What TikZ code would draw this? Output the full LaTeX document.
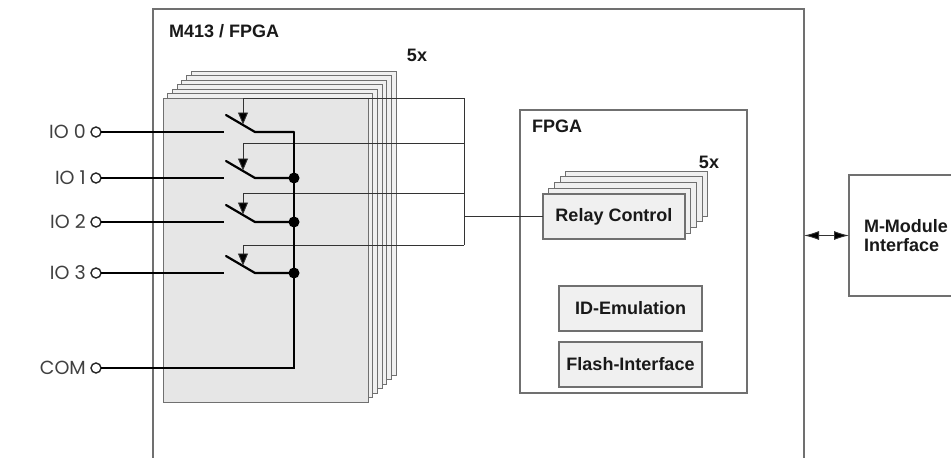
\documentclass[tikz,border=0pt]{standalone}
\usepackage{fontspec}
\setmainfont{Liberation Sans}
\newfontfamily\iofont{Poppins}
\usetikzlibrary{arrows.meta}
\definecolor{edgegray}{HTML}{707070}
\definecolor{ctlgray}{HTML}{333333}
\definecolor{sheetfront}{HTML}{E6E6E6}
\definecolor{sheetback}{HTML}{F0F0F0}
\definecolor{boxfill}{HTML}{F0F0F0}
\definecolor{txtgray}{HTML}{404040}
\tikzset{
  boxline/.style={draw=edgegray, line width=1.1pt},
  sheetbk/.style={draw=edgegray, line width=1pt, fill=sheetback},
  sheetfr/.style={draw=edgegray, line width=1pt, fill=sheetfront},
  blockbox/.style={draw=edgegray, line width=1.1pt, fill=boxfill, inner sep=0pt, outer sep=0pt,
     font=\fontsize{18}{20}\selectfont\bfseries, text=black!90},
  title/.style={font=\fontsize{18}{20}\selectfont\bfseries, text=black!90, inner sep=0pt},
  iolab/.style={font=\iofont\fontsize{19}{22}\selectfont, text=txtgray, inner sep=0pt, anchor=east},
  term/.style={circle, draw=black!85, line width=1.4pt, fill=white, minimum size=10pt, inner sep=0pt, outer sep=0pt},
  sig/.style={draw=black, line width=2.2pt},
  ctl/.style={draw=ctlgray, line width=0.9pt},
  ctlarrow/.style={draw=ctlgray, line width=0.9pt, -{Triangle[length=12pt,width=10pt,fill=black]}},
  junction/.style={circle, fill=black, minimum size=11pt, inner sep=0pt},
}
\begin{document}
\begin{tikzpicture}[x=1pt,y=-1pt]
\useasboundingbox (0,0) rectangle (951,458);
\fill[white] (0,0) rectangle (951,458);

% outer M413 box (open at bottom)
\draw[boxline] (153,458) -- (153,9) -- (804,9) -- (804,458);
\node[title, anchor=west] (t413) at (169,31) {M413 / FPGA};

% stacked relay sheets
\foreach \i in {6,5,...,1} {
  \filldraw[sheetbk] ({163+4.7*\i},{98-4.5*\i}) rectangle ({368+4.7*\i},{402-4.5*\i});
}
\filldraw[sheetfr] (163,98) rectangle (368,402);
\node[title] (five1) at (417,55) {5x};

% FPGA box
\node[draw=edgegray, line width=1.1pt, fill=white, minimum width=227pt, minimum height=283pt,
      anchor=north west, inner sep=0pt, outer sep=0pt] (fpga) at (520,110) {};
\node[title, anchor=west] (tfpga) at (532,126) {FPGA};

% relay control stack
\foreach \i in {4,3,2,1} {
  \filldraw[draw=edgegray, line width=1pt, fill=boxfill] ({543+5.7*\i},{194-5.7*\i}) rectangle ({685+5.7*\i},{239-5.7*\i});
}
\node[blockbox, minimum width=142pt, minimum height=45pt, anchor=north west] (rc) at (543,194) {Relay Control};
\node[title] (five2) at (709,162) {5x};

\node[blockbox, minimum width=143pt, minimum height=45pt, anchor=north west] (ide) at (559,286) {ID-Emulation};
\node[blockbox, minimum width=143pt, minimum height=45pt, anchor=north west] (fli) at (559,342) {Flash-Interface};

% M-Module interface
\node[anchor=north west, minimum height=121pt, minimum width=102pt, inner xsep=15pt, inner ysep=0pt,
      outer sep=0pt, align=left, font=\fontsize{18}{19}\selectfont\bfseries, text=black!90,
      text width=85pt] (mm) at (849,175) {M-Module\\Interface};
\draw[boxline] ([xshift=102pt]mm.north west) -- (mm.north west) -- (mm.south west) -- ([xshift=102pt]mm.south west);
\coordinate (outr) at (804,235.5);
\draw[draw=ctlgray, line width=0.9pt, {Latex[length=15pt,width=9pt,fill=black]}-{Latex[length=15pt,width=9pt,fill=black]}] (outr) -- (mm.west);

% terminals and labels
\foreach \n/\y/\lab in {0/132/IO 0,1/178/IO 1,2/222/IO 2,3/273/IO 3,4/368/COM} {
  \node[term] (io\n) at (96,\y) {};
  \node[iolab] (lab\n) at (86,\y) {\lab};
}

% switches
\foreach \n/\s/\c in {0/132/98,1/178/143,2/222/193,3/273/245} {
  \coordinate (sa\n) at (224,\s);
  \coordinate (sb\n) at (226,\s-17);
  \coordinate (sc\n) at (255,\s);
  \coordinate (bus\n) at (294,\s);
  \coordinate (ca\n) at (464,\c);
  \coordinate (cb\n) at (243,\c);
  \coordinate (cc\n) at (243,\s-7.5);
  \draw[sig] (io\n) -- (sa\n);
  \draw[sig, line cap=round] (sb\n) -- (sc\n) -- (bus\n);
  \draw[ctl] (ca\n) -- (cb\n);
  \draw[ctlarrow] (cb\n) -- (cc\n);
}
\coordinate (buscom) at (294,368);
\draw[sig] (bus0) -- (buscom) -- (io4);
\foreach \n in {1,2,3} { \node[junction] (j\n) at (bus\n) {}; }

% control bus to relay control
\draw[ctl] (ca0) -- (ca3);
\coordinate (cbus) at (464,216.5);
\draw[ctl] (cbus) -- (rc.west);
\end{tikzpicture}
\end{document}
